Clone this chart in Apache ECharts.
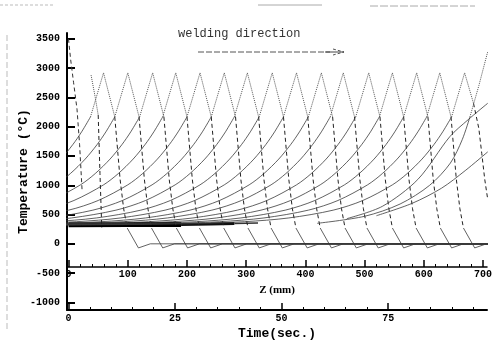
<!DOCTYPE html>
<html>
<head>
<meta charset="utf-8">
<script src="https://cdn.jsdelivr.net/npm/echarts@6/dist/echarts.min.js"></script>
<style>
  html, body { margin: 0; padding: 0; background: #fff; }
  #chart { width: 497px; height: 347px; }
</style>
</head>
<body>
<div id="chart"></div>
<script>
// Torch (crest) position along the weld for each recorded instant, mm
const crestZ = [59, 100, 142, 181, 222, 263, 302, 344, 385, 427, 464, 507, 547, 588, 627];

// Crest of each profile: offset from torch (mm) and temperature (°C)
const crestOffset = [-22, 0, 19];
const crestTemp = [2168, 2920, 2168];

// Steep front ahead of the torch
const frontOffset = [19, 28, 34, 40];
const frontTemp = [2168, 1100, 600, 270];

// Undershoot just ahead of the front, then back to ambient
const toeOffset = [40, 59, 79, 720];
const toeTemp = [270, -70, 0, 0];

// Cooling tail behind the torch: distance back from the rear valley (mm) and temperature
const tailBack = [0, 15, 30, 50, 75, 100, 150, 200, 275, 350, 450, 600, 720];
const tailTemp = [2168, 1912, 1693, 1447, 1200, 1007, 740, 575, 442, 378, 341, 325, 318];

// Last instant with the torch on the plate (near the far end)
const lastCrestZ = [647, 669, 684];
const lastCrestTemp = [2168, 2920, 2400];
const lastFrontZ = [684, 693, 698, 703, 708];
const lastFrontTemp = [2400, 1970, 1540, 1100, 760];

// Heat piling up at the plate end
const endRiseZ = [420, 500, 560, 610, 645, 665, 678];
const endRiseTemp = [350, 470, 680, 1000, 1380, 1780, 2168];
const endPeakZ = [678, 693, 708];
const endPeakTemp = [2168, 2700, 3280];
const endSlopeZ = [470, 530, 590, 644, 675, 708];
const endSlopeTemp = [430, 640, 1100, 1830, 2120, 2400];
const endLowZ = [520, 580, 630, 670, 708];
const endLowTemp = [480, 690, 950, 1250, 1570];

// First instant right after arc start (front half only)
const startZ = [38, 45, 50];
const startTemp = [2880, 2500, 2200];
const startFrontZ = [50, 53, 56];
const startFrontTemp = [2200, 1200, 280];

// Dense overlap of the cooled tails behind the weld
const bandZ = [0, 100, 190];
const bandTemp = [325, 328, 332];
const bandMidZ = [190, 240, 280];
const bandMidTemp = [332, 338, 345];
const bandThinZ = [280, 320];
const bandThinTemp = [345, 355];

// Thermal cycle near the start, plotted against time
const cycleTime = [0, 0.5, 1.2, 2.0, 2.6, 3.2];
const cycleTemp = [3500, 3150, 2750, 2300, 1700, 900];

// Axis tick values
const zTicks = [0, 100, 200, 300, 400, 500, 600, 700];
const zMinor = [20, 40, 60, 80, 120, 140, 160, 180, 220, 240, 260, 280, 320, 340, 360, 380, 420, 440, 460, 480, 520, 540, 560, 580, 620, 640, 660, 680];
const timeTicks = [0, 25, 50, 75];
const timeMinor = [5, 10, 15, 20, 30, 35, 40, 45, 55, 60, 65, 70, 80, 85, 90, 95];
const tempTicks = [-1000, -500, 0, 500, 1000, 1500, 2000, 2500, 3000, 3500];

const chart = echarts.init(document.getElementById('chart'), null, { renderer: 'canvas' });

const monoBold = { fontFamily: 'Liberation Mono', fontWeight: 'bold', color: '#000' };
const plain = (v) => String(v);

function shifted(base, offsets, temps, sign) {
  return offsets.map((o, k) => [base + sign * o, temps[k]]);
}
function pairs(xs, ys) {
  return xs.map((x, k) => [x, ys[k]]);
}

const SOLID = { color: '#3a3a3a', width: 0.8 };
const DOTTED = { color: '#555', width: 1, type: 'dotted' };
const DASHED = { color: '#222', width: 1, type: [4, 3] };

function line(name, data, style, extra) {
  return Object.assign({ name, type: 'line', xAxisIndex: 0, symbol: 'none', lineStyle: style, data }, extra || {});
}

const series = [];
// bold band first so the thin curves sit on top
series.push(line('band', pairs(bandZ, bandTemp), { color: '#000', width: 5 }));
series.push(line('bandMid', pairs(bandMidZ, bandMidTemp), { color: '#111', width: 3 }));
series.push(line('bandThin', pairs(bandThinZ, bandThinTemp), { color: '#333', width: 1.5 }));

crestZ.forEach((zc, i) => {
  series.push(line('tail' + i, shifted(zc + crestOffset[0], tailBack, tailTemp, -1).reverse(), SOLID, { smooth: 0.3 }));
  series.push(line('crest' + i, shifted(zc, crestOffset, crestTemp, 1), DOTTED));
  series.push(line('front' + i, shifted(zc, frontOffset, frontTemp, 1), DASHED));
  series.push(line('toe' + i, shifted(zc, toeOffset, toeTemp, 1), SOLID));
});

// last on-plate instant
series.push(line('lastTail', shifted(lastCrestZ[0], tailBack, tailTemp, -1).reverse(), SOLID, { smooth: 0.3 }));
series.push(line('lastCrest', pairs(lastCrestZ, lastCrestTemp), DOTTED));
series.push(line('lastFront', pairs(lastFrontZ, lastFrontTemp), DASHED));

// plate-end curves
series.push(line('endRise', pairs(endRiseZ, endRiseTemp), SOLID, { smooth: 0.3 }));
series.push(line('endPeak', pairs(endPeakZ, endPeakTemp), DOTTED));
series.push(line('endSlope', pairs(endSlopeZ, endSlopeTemp), SOLID, { smooth: 0.3 }));
series.push(line('endLow', pairs(endLowZ, endLowTemp), SOLID, { smooth: 0.3 }));

// arc start
series.push(line('start', pairs(startZ, startTemp), DOTTED));
series.push(line('startFront', pairs(startFrontZ, startFrontTemp), DASHED));

// thermal cycle against time
series.push(line('cycle', pairs(cycleTime, cycleTemp), { color: '#333', width: 1, type: [4, 3] }, { xAxisIndex: 2 }));

const option = {
  animation: false,
  backgroundColor: '#fff',
  grid: { left: 67, right: 10, top: 33, bottom: 37, containLabel: false, outerBoundsMode: 'none' },
  xAxis: [
    { // Z along the weld
      type: 'value', position: 'bottom', offset: -43,
      min: -2.7, max: 706.8,
      name: 'Z (mm)', nameLocation: 'middle', nameGap: 18, nameMoveOverlap: false,
      nameTextStyle: { fontSize: 11, fontFamily: 'Liberation Serif', fontWeight: 'bold', color: '#000' },
      axisLine: { onZero: false, lineStyle: { color: '#000', width: 1.5 } },
      axisTick: { inside: true, length: 7, lineStyle: { width: 1.5, color: '#000' }, customValues: zTicks },
      axisLabel: Object.assign({ fontSize: 10, margin: 2, customValues: zTicks, formatter: plain }, monoBold),
      splitLine: { show: false }
    },
    { // minor Z ticks
      type: 'value', position: 'bottom', offset: -43,
      min: -2.7, max: 706.8,
      axisLine: { show: false, onZero: false },
      axisTick: { inside: true, length: 3, lineStyle: { width: 1, color: '#000' }, customValues: zMinor },
      axisLabel: { show: false, customValues: [] },
      splitLine: { show: false }
    },
    { // elapsed time
      type: 'value', position: 'bottom',
      min: -0.35, max: 98.2,
      name: 'Time(sec.)', nameLocation: 'middle', nameGap: 17, nameMoveOverlap: false,
      nameTextStyle: Object.assign({ fontSize: 13 }, monoBold),
      axisLine: { onZero: false, lineStyle: { color: '#000', width: 2 } },
      axisTick: { inside: true, length: 7, lineStyle: { width: 1.5, color: '#000' }, customValues: timeTicks },
      axisLabel: Object.assign({ fontSize: 10, margin: 3, customValues: timeTicks, formatter: plain }, monoBold),
      splitLine: { show: false }
    },
    { // minor time ticks
      type: 'value', position: 'bottom',
      min: -0.35, max: 98.2,
      axisLine: { show: false, onZero: false },
      axisTick: { inside: true, length: 3, lineStyle: { width: 1, color: '#000' }, customValues: timeMinor },
      axisLabel: { show: false, customValues: [] },
      splitLine: { show: false }
    }
  ],
  yAxis: {
    type: 'value', min: -1130, max: 3600,
    name: 'Temperature (°C)', nameLocation: 'middle', nameGap: 37, nameRotate: 90, nameMoveOverlap: false,
    nameTextStyle: Object.assign({ fontSize: 13 }, monoBold),
    axisLine: { onZero: false, lineStyle: { color: '#000', width: 2 } },
    axisTick: { inside: true, length: 8, lineStyle: { width: 2, color: '#000' }, customValues: tempTicks },
    axisLabel: Object.assign({ fontSize: 10, margin: 7, customValues: tempTicks, formatter: plain }, monoBold),
    splitLine: { show: false }
  },
  series: series,
  graphic: [
    { type: 'text', left: 178, top: 28,
      style: { text: 'welding direction', font: '12px "Liberation Mono"', fill: '#333' } },
    { type: 'line', shape: { x1: 198, y1: 52, x2: 330, y2: 52 },
      style: { stroke: '#555', lineWidth: 1, lineDash: [6, 2] } },
    { type: 'polyline', shape: { points: [[333, 49], [344, 52], [333, 55]] },
      style: { stroke: '#555', lineWidth: 1, fill: null, lineDash: [3, 2] } },
    { type: 'line', shape: { x1: 325, y1: 52, x2: 344, y2: 52 },
      style: { stroke: '#444', lineWidth: 1 } },
    // scan border remnants
    { type: 'line', shape: { x1: 0, y1: 5, x2: 55, y2: 5 }, style: { stroke: '#bbb', lineWidth: 1, lineDash: [3, 2] } },
    { type: 'line', shape: { x1: 258, y1: 5, x2: 322, y2: 5 }, style: { stroke: '#aaa', lineWidth: 1 } },
    { type: 'line', shape: { x1: 370, y1: 6, x2: 475, y2: 6 }, style: { stroke: '#aaa', lineWidth: 1, lineDash: [8, 2] } },
    { type: 'line', shape: { x1: 7, y1: 35, x2: 7, y2: 330 }, style: { stroke: '#bbb', lineWidth: 1, lineDash: [6, 3] } }
  ]
};

chart.setOption(option);
</script>
</body>
</html>
